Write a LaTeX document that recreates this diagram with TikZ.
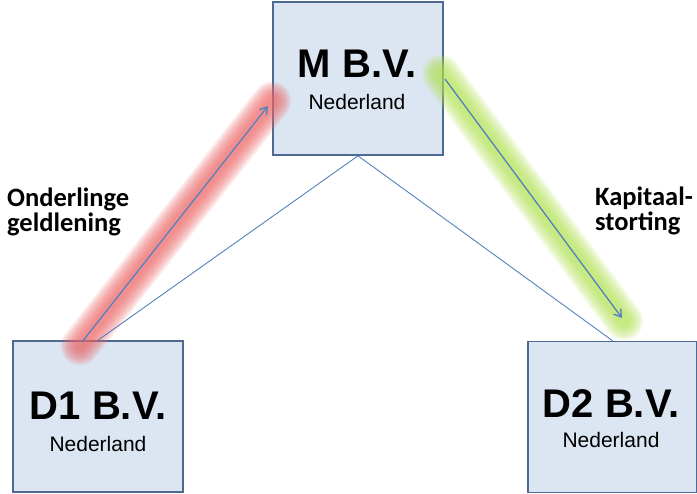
\documentclass[tikz,border=0pt]{standalone}
\usepackage{fontspec}
\setmainfont{Liberation Sans}
\newfontfamily\notefont{Carlito}
\usetikzlibrary{arrows.meta,calc}
\definecolor{boxfill}{RGB}{220,230,242}
\definecolor{boxline}{RGB}{79,106,146}
\definecolor{linkline}{RGB}{84,128,190}
\definecolor{glowred}{RGB}{236,100,100}
\definecolor{glowgreen}{RGB}{176,224,80}
\tikzset{
  x=1pt, y=1pt,
  entity/.style={draw=boxline, line width=1.6pt, fill=boxfill, inner sep=0pt},
  link/.style={draw=linkline, line width=0.9pt},
  flow/.style={draw=linkline, line width=1.3pt, -{Straight Barb[length=7pt,width=9pt,line width=1.3pt]}},
  note/.style={align=left, inner sep=0pt, font=\notefont\bfseries\fontsize{26.5}{25}\selectfont, text=black},
}
% soft halo along a segment
\newcommand{\halo}[3]{%
  \foreach \w in {38,34,...,10}{%
    \draw[#1, line width=\w pt, line cap=round, opacity=0.15] (#2) -- (#3);
  }%
}
\begin{document}
\begin{tikzpicture}
  \useasboundingbox (0,0) rectangle (697,-494);

  % coordinates of the flows
  \coordinate (loanA) at (82,-342);
  \coordinate (loanB) at (268,-106);
  \coordinate (capA) at (445,-79);
  \coordinate (capB) at (622,-318);

  % companies
  \node[entity, minimum width=170pt, minimum height=153pt] (M) at (358,-78.5) {};
  \node[entity, minimum width=170pt, minimum height=151pt] (D1) at (98,-416.5) {};
  \node[entity, minimum width=169pt, minimum height=151pt] (D2) at (612.5,-417) {};

  % highlight halos
  \halo{glowred}{80,-346}{272,-101}
  \halo{glowgreen}{441,-74}{624,-321}

  \node[inner sep=0pt, anchor=base] (Mt) at (357,-78) {\fontsize{40}{40}\selectfont\bfseries M B.V.};
  \node[inner sep=0pt, anchor=base] (Ms) at (357,-110) {\fontsize{21}{21}\selectfont Nederland};
  \node[inner sep=0pt, anchor=base] (D1t) at (98,-420) {\fontsize{40}{40}\selectfont\bfseries D1 B.V.};
  \node[inner sep=0pt, anchor=base] (D1s) at (98,-452) {\fontsize{21}{21}\selectfont Nederland};
  \node[inner sep=0pt, anchor=base] (D2t) at (611,-418) {\fontsize{40}{40}\selectfont\bfseries D2 B.V.};
  \node[inner sep=0pt, anchor=base] (D2s) at (611,-448) {\fontsize{21}{21}\selectfont Nederland};

  % ownership lines
  \draw[link] (M.south) -- (D1.north);
  \draw[link] (M.south) -- (D2.north);

  % flows
  \draw[flow] (loanA) -- (loanB);
  \draw[flow] (capA) -- (capB);

  % labels
  \node[note, anchor=base west] (loan) at (7,-232) {Onderlinge\\geldlening};
  \node[note, anchor=base west] (cap) at (595,-231) {Kapitaal-\\storting};
\end{tikzpicture}
\end{document}
